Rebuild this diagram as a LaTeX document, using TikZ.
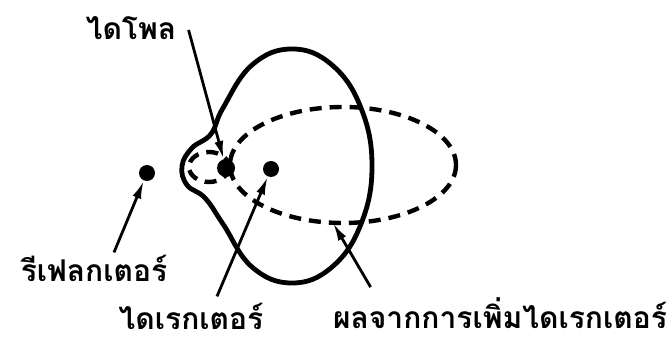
\documentclass[tikz,border=0pt]{standalone}
\usepackage{fontspec}
\newfontfamily\thaifont[Script=Thai]{Loma}
\usetikzlibrary{arrows.meta}

\begin{document}
\begin{tikzpicture}[x=0.5pt, y=-0.5pt,
    element/.style = {circle, fill, inner sep=0pt, minimum size=8pt},
    thailabel/.style = {font=\thaifont\bfseries\fontsize{15}{17}\selectfont, inner sep=1pt},
    pointer/.style = {line width=1.4pt, -{Latex[length=9pt,width=4.5pt]}},
    pattern/.style = {line width=2.2pt, dash pattern=on 6pt off 4pt}]
        \useasboundingbox (0,0) rectangle (672,341);
        % radiation patterns
        \draw[line width=2.4pt] plot[smooth cycle, tension=0.7] coordinates {
            (292,49) (332,65) (361,108) (372,166) (361,224) (332,267) (292,283)
            (252,267) (223,224) (205,198) (187,185) (182,166) (192,148) (211,134)
            (223,108) (252,65)};
        \draw[pattern] (209,167) ellipse [x radius=20, y radius=15];
        \draw[pattern] (343,165) ellipse [x radius=113, y radius=58];
        \coordinate (gain) at (333,223);
        % antenna elements
        \node[element] (reflector) at (147,173) {};
        \node[element, minimum size=9pt] (dipole) at (226,168) {};
        \node[element] (director) at (271,169) {};
        % labels
        \node[thailabel] (dipolelabel) at (131,28) {ไดโพล};
        \node[thailabel] (reflectorlabel) at (94,268) {รีเฟลกเตอร์};
        \node[thailabel] (directorlabel) at (191,316) {ไดเรกเตอร์};
        \node[thailabel] (gainlabel) at (500,313) {ผลจากการเพิ่มไดเรกเตอร์};
        % pointers
        \draw[pointer] ([xshift=5pt,yshift=-1pt]dipolelabel.east) -- (dipole);
        \draw[pointer] ([xshift=10pt]reflectorlabel.north) -- (reflector);
        \draw[pointer] ([xshift=13pt,yshift=2pt]directorlabel.north) -- (director);
        \draw[pointer] ([xshift=20pt,yshift=4pt]gainlabel.north west) -- (gain);
    \end{tikzpicture}
\end{document}
